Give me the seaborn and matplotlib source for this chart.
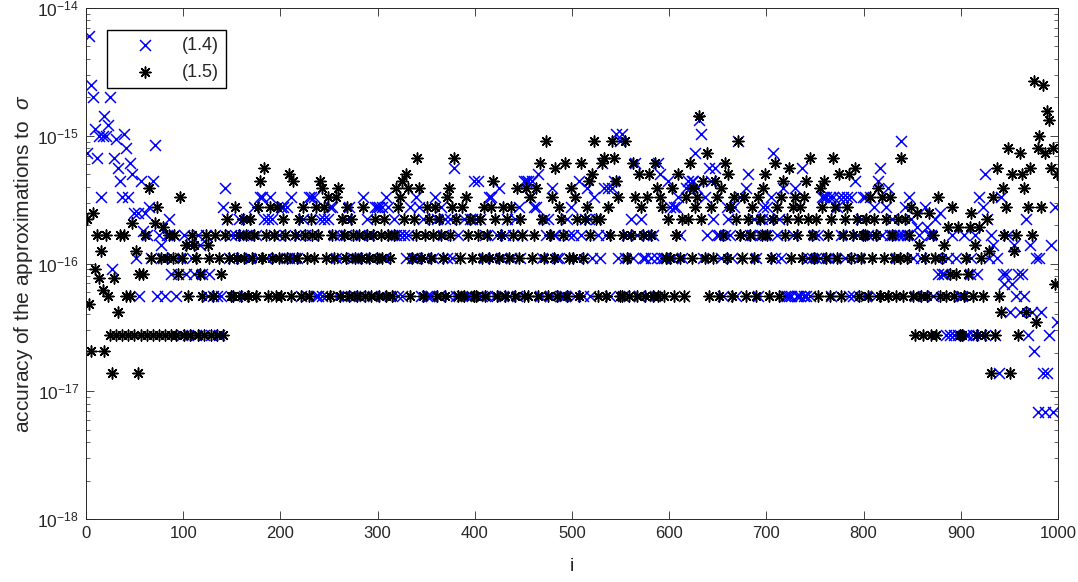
import numpy as np
import pandas as pd
import matplotlib
matplotlib.use("Agg")
import matplotlib.pyplot as plt
import seaborn as sns

# accuracy values are multiples of 2^-57; one letter per level
level_units = {
    "a": 1, "b": 2, "c": 3, "d": 4, "e": 5, "f": 6, "g": 7, "h": 8, "i": 9,
    "j": 10, "k": 11, "l": 12, "m": 13, "n": 14, "o": 16, "p": 18, "q": 20,
    "r": 22, "s": 24, "t": 26, "u": 28, "v": 30, "w": 32, "x": 36, "y": 40,
    "z": 44, "A": 48, "B": 56, "C": 64, "D": 72, "E": 80, "F": 88, "G": 96,
    "H": 106, "I": 115, "J": 122, "K": 130, "L": 136, "M": 144, "N": 150,
    "O": 164, "P": 176, "Q": 192, "R": 204, "S": 224, "T": 256, "U": 288,
    "V": 360, "W": 384, "X": 480, "Y": 864,
}

# one string per hundred indices, one letter per odd i (1, 3, 5, ...)
blue_codes = [  # (1.4)
    "HYVUOGMAMR" "MPUmGLECAN" "IAFDxoxhCt" "xsyoCJhsqo" "hswloshlod",
    "sldqoldsql" "dshldhshdh" "yBwososhwo" "shwsohysoA" "AwowAwshos",
    "yysyoAooos" "hwshAAsAhh" "whwhwyysoh" "sohswyhoho" "hsAowsohyy",
    "yhyoAyhsws" "hshsosyooA" "oyhwohhhoA" "whyswohwoE" "hsohwhhwwC",
    "wCwhoshAAo" "hsBohswhos" "whyosCCCAC" "yyDhowswhB" "ssoohhhwsy",
    "shoCshwBwh" "oAwsoFBsBh" "BCNoKNhosh" "woFshwoosh" "oshoFDoooC",
    "yoyyAsohBC" "BCCHBQNoAs" "ECwEssohsy" "wsoyhKAosB" "Dsswohswys",
    "ywAHoswoBh" "hhhsBhhhEh" "hohososoAA" "AoAhAoyAsA" "oAhAhCsowA",
    "AhsAsyhCEs" "hyBswsossK" "sysAwohuso" "hyusshwolx" "lldodsdodh",
    "hsddlodslA" "dyDwosqdob" "Aljlsfjqhl" "flhwdqfcoa" "ofbabdqaye",
]
black_codes = [  # (1.5)
    "wgcxmskpic" "shdbkdfsds" "hdhvdpbldl" "sdBodvydou" "dosdosdlAo",
    "dqhdsqodlh" "dsqodhsdol" "dswohhyosh" "woshwoshyC" "oEshyoshyo",
    "hwsoDhCsow" "hysohwsoys" "CByoAhsoAB" "hwsoyhwsoh" "soyhsohswo",
    "hsowhsohsB" "yACwDBhows" "GBohsywosy" "hwsohABsyG" "whoyhAswoh",
    "hswoyhsoyC" "whosyhwoys" "hBowshBhAo" "sBhFwoKhsA" "oEhywsFhoB",
    "oAwhFowyCs" "DKwhwFGhys" "KGCAhhsKoh" "sFAhDyshAD" "shFBhAyhow",
    "oBhsDowhAw" "FoByARwCoH" "hyoCAhBsFo" "DyhAwKsoAh" "wsyohAwsBD",
    "showFyhACs" "wEoyAswyoA" "CwGsowhByC" "oshwGyoDhs" "wyDosEwhos",
    "swhAowsBhA" "owhAsohwoG" "hwosyhdxqh" "dohxdsodAh" "oqhulyhlud",
    "dholuxhqdu" "ohdwpbAdEh" "fBsyIbDpsd" "HDBfyEsWeI" "MyVHSQEIjD",
]
series_labels = ["(1.4)", "(1.5)"]
x_ticks = [0, 100, 200, 300, 400, 500, 600, 700, 800, 900, 1000]


def decode(lines):
    rows = []
    for k, line in enumerate(lines):
        for j, c in enumerate(line):
            rows.append((100 * k + 1 + 2 * j, level_units[c] * 2.0 ** -57))
    return pd.DataFrame(rows, columns=["i", "acc"])


blue = decode(blue_codes)
black = decode(black_codes)

sns.set_style("ticks")
plt.rcParams["font.family"] = ["Liberation Sans", "DejaVu Sans"]
plt.rcParams["mathtext.fontset"] = "custom"
plt.rcParams["mathtext.rm"] = "Liberation Sans"
plt.rcParams["mathtext.it"] = "Liberation Sans:italic"

fig = plt.figure(figsize=(10.78, 5.82), dpi=100)
ax = fig.add_axes([0.0798, 0.1082, 0.9016, 0.8781])
ax.set_yscale("log")

sns.scatterplot(data=blue, x="i", y="acc", marker="x", color="#0000ff",
                s=62, linewidth=1.1, label=series_labels[0], ax=ax)
sns.scatterplot(data=black, x="i", y="acc", marker=(8, 2, 0), color="black",
                s=62, linewidth=1.1, label=series_labels[1], ax=ax)

ax.set_xlim(0, 1000)
ax.set_ylim(1e-18, 1e-14)
ax.set_xticks(x_ticks)
ax.set_xlabel("i", fontsize=14, labelpad=12)
ax.set_ylabel(r"accuracy of the approximations to  $\sigma$", fontsize=15,
              labelpad=2)

ax.tick_params(which="both", direction="in", top=True, right=True,
               labelsize=12.5, colors="#262626", pad=5)
ax.tick_params(axis="x", labelsize=12)
ax.tick_params(which="major", length=6, width=0.6)
ax.tick_params(which="minor", length=3, width=0.5)
for sp in ax.spines.values():
    sp.set_visible(True)
    sp.set_linewidth(0.7)
    sp.set_color("#262626")

ax.legend(loc="upper left", bbox_to_anchor=(0.0215, 0.957), borderaxespad=0,
          frameon=True, fancybox=False, edgecolor="black", framealpha=1,
          fontsize=13, borderpad=0.4, handlelength=3.4, handletextpad=0.35,
          labelspacing=0.55)

fig.savefig("out.png", dpi=100)
